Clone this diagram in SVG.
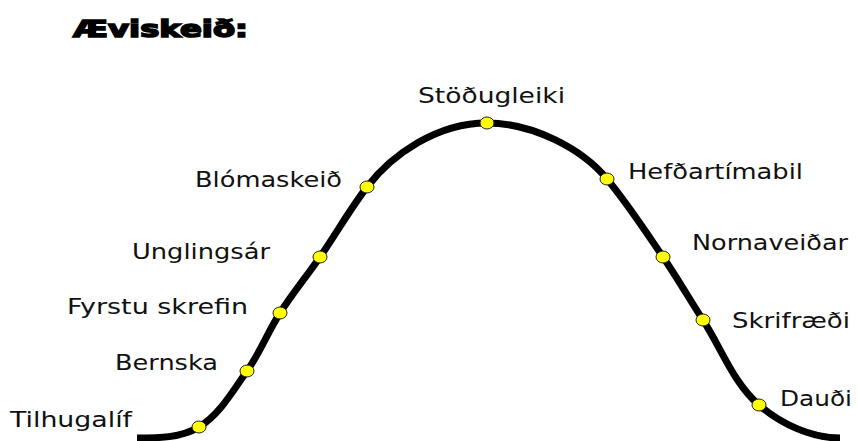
<svg xmlns="http://www.w3.org/2000/svg" width="857" height="441" viewBox="0 0 857 441">
<style>
.lbl{font-family:"DejaVu Sans","Verdana",sans-serif;font-size:22px;fill:#111;}
.ttl{font-family:"DejaVu Sans","Liberation Sans",sans-serif;font-weight:bold;font-size:23px;fill:#000;stroke:#000;stroke-width:1.6px;}
.dot{fill:#ffff00;stroke:#222;stroke-width:1;}
.curve{fill:none;stroke:#000;stroke-width:7;}
</style>
<rect width="857" height="441" fill="#fff"/>
<text class="ttl" x="73" y="37" textLength="175" lengthAdjust="spacingAndGlyphs">Æviskeið:</text>
<g id="connectors">
<path class="curve" d="M137,438 C158,438 181,438 199,427 C220,414 232.7,391.1 247,371 C259.9,352.9 268,331.7 280,313 C292.3,293.7 307,275.8 320,257 C336,233.9 349.9,209.3 367,187 C392,154.5 437,123 487,123 C532,123 581.5,148.2 607,179 C627.4,203.6 645,230.5 663,257 C677,277.6 689.5,299.1 703,320 C721.4,348.4 733.3,382.9 759,405 C781.1,424 811,438 840,438"/>
</g>
<g id="tilhugalif"><ellipse class="dot" cx="199" cy="427" rx="7" ry="6"/><text class="lbl" x="10" y="427" textLength="122" lengthAdjust="spacingAndGlyphs">Tilhugalíf</text></g>
<g id="bernska"><ellipse class="dot" cx="247" cy="371" rx="7" ry="6"/><text class="lbl" x="115" y="370" textLength="103" lengthAdjust="spacingAndGlyphs">Bernska</text></g>
<g id="fyrstu-skrefin"><ellipse class="dot" cx="280" cy="313" rx="7" ry="6"/><text class="lbl" x="67" y="314" textLength="181" lengthAdjust="spacingAndGlyphs">Fyrstu skrefin</text></g>
<g id="unglingsar"><ellipse class="dot" cx="320" cy="257" rx="7" ry="6"/><text class="lbl" x="132" y="259" textLength="138" lengthAdjust="spacingAndGlyphs">Unglingsár</text></g>
<g id="blomaskeid"><ellipse class="dot" cx="367" cy="187" rx="7" ry="6"/><text class="lbl" x="195" y="187" textLength="147" lengthAdjust="spacingAndGlyphs">Blómaskeið</text></g>
<g id="stodugleiki"><ellipse class="dot" cx="487" cy="123" rx="7" ry="6"/><text class="lbl" x="418" y="103" textLength="147" lengthAdjust="spacingAndGlyphs">Stöðugleiki</text></g>
<g id="hefdartimabil"><ellipse class="dot" cx="607" cy="179" rx="7" ry="6"/><text class="lbl" x="628" y="179" textLength="175" lengthAdjust="spacingAndGlyphs">Hefðartímabil</text></g>
<g id="nornaveidar"><ellipse class="dot" cx="663" cy="257" rx="7" ry="6"/><text class="lbl" x="692" y="250" textLength="156" lengthAdjust="spacingAndGlyphs">Nornaveiðar</text></g>
<g id="skrifraedi"><ellipse class="dot" cx="703" cy="320" rx="7" ry="6"/><text class="lbl" x="732" y="328" textLength="118" lengthAdjust="spacingAndGlyphs">Skrifræði</text></g>
<g id="daudi"><ellipse class="dot" cx="759" cy="405" rx="7" ry="6"/><text class="lbl" x="780" y="406" textLength="72" lengthAdjust="spacingAndGlyphs">Dauði</text></g>
</svg>
